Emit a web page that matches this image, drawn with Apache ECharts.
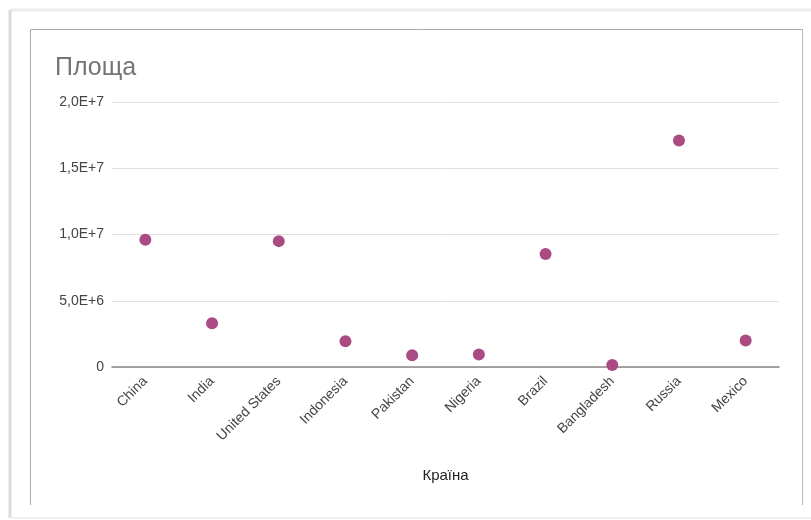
<!DOCTYPE html>
<html>
<head>
<meta charset="utf-8">
<script src="https://cdn.jsdelivr.net/npm/echarts@6/dist/echarts.min.js"></script>
<style>html,body{margin:0;padding:0;background:#fff}#c{width:811px;height:520px}</style>
</head>
<body>
<div id="c"></div>
<script>
var categories = ['China','India','United States','Indonesia','Pakistan','Nigeria','Brazil','Bangladesh','Russia','Mexico'];
var areaValues = [9600000, 3300000, 9500000, 1950000, 880000, 950000, 8520000, 150000, 17100000, 2000000];
var yTicks = [0, 5000000, 10000000, 15000000, 20000000];
var titleText = 'Площа';
var xName = 'Країна';

function fmt(v){
  if (v === 0) return '0';
  var e = Math.floor(Math.log10(v));
  var m = v / Math.pow(10, e);
  return m.toFixed(1).replace('.', ',') + 'E+' + e;
}

var chart = echarts.init(document.getElementById('c'));
chart.setOption({
  animation: false,
  backgroundColor: '#fff',
  textStyle: {fontFamily: 'Liberation Sans, Arial, sans-serif'},
  title: {
    text: titleText, left: 50, top: 51,
    textStyle: {fontSize: 25, fontWeight: 'normal', color: '#757575', fontFamily: 'Liberation Sans, Arial, sans-serif'}
  },
  grid: {left: 112, right: 32, top: 102, bottom: 153},
  xAxis: {
    type: 'category', data: categories, boundaryGap: true,
    name: xName, nameLocation: 'middle', nameGap: 101,
    nameTextStyle: {fontSize: 15, color: '#222'},
    axisLine: {lineStyle: {color: '#888', width: 1.5}},
    axisTick: {show: false},
    axisLabel: {rotate: 45, fontSize: 14, color: '#444', margin: 12, interval: 0}
  },
  yAxis: {
    type: 'value', min: yTicks[0], max: yTicks[yTicks.length-1], interval: yTicks[1]-yTicks[0],
    axisLine: {show: false}, axisTick: {show: false},
    axisLabel: {fontSize: 14, color: '#444', margin: 8, formatter: fmt},
    splitLine: {lineStyle: {color: '#e0e0e0', width: 1}}
  },
  series: [{
    type: 'scatter', data: areaValues, symbolSize: 12,
    itemStyle: {color: '#ab4b84', opacity: 1}
  }],
  graphic: [
    {type: 'line', shape: {x1: 10, y1: 10, x2: 811, y2: 10}, style: {stroke: '#ececec', lineWidth: 3}, silent: true},
    {type: 'line', shape: {x1: 10, y1: 10, x2: 10, y2: 518}, style: {stroke: '#dcdcdc', lineWidth: 3}, silent: true},
    {type: 'line', shape: {x1: 10, y1: 518, x2: 811, y2: 518}, style: {stroke: '#f0f0f0', lineWidth: 2}, silent: true},
    {type: 'line', shape: {x1: 30.5, y1: 29.5, x2: 802.5, y2: 29.5}, style: {stroke: '#aaaaaa', lineWidth: 1}, silent: true},
    {type: 'line', shape: {x1: 30.5, y1: 29.5, x2: 30.5, y2: 505}, style: {stroke: '#aaaaaa', lineWidth: 1}, silent: true},
    {type: 'line', shape: {x1: 802.5, y1: 29.5, x2: 802.5, y2: 505}, style: {stroke: '#bbbbbb', lineWidth: 1}, silent: true}
  ]
});
</script>
</body>
</html>
